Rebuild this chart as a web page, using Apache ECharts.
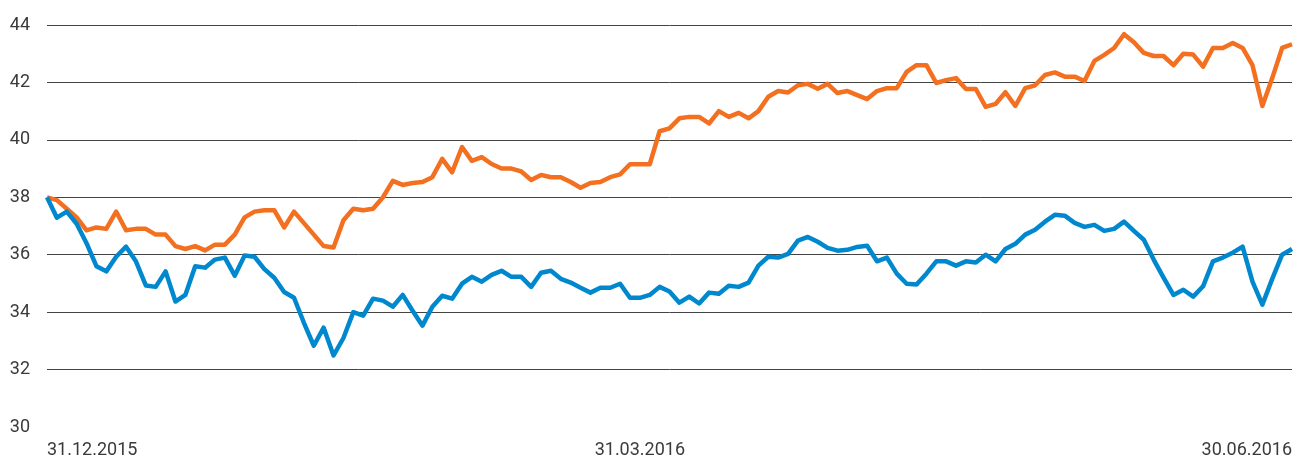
<!DOCTYPE html>
<html>
<head>
<meta charset="utf-8">
<style>
  html, body { margin: 0; padding: 0; background: #fff; }
  #chart { width: 1297px; height: 459px; }
</style>
<script src="https://cdn.jsdelivr.net/npm/echarts@6/dist/echarts.min.js"></script>
</head>
<body>
<div id="chart"></div>
<script>
// trading days 31.12.2015 – 30.06.2016, only three of them carry a label
const dayCount = 127;
const days = Array.from({ length: dayCount }, (_, i) => "d" + i);
const tickLabels = { 0: "31.12.2015", 60: "31.03.2016", 126: "30.06.2016" };

const orangeValues = [
  38.0, 37.9, 37.6, 37.3, 36.85, 36.95, 36.9, 37.5, 36.85, 36.9,
  36.9, 36.7, 36.7, 36.3, 36.2, 36.3, 36.15, 36.35, 36.35, 36.7,
  37.3, 37.5, 37.55, 37.55, 36.95, 37.5, 37.1, 36.7, 36.3, 36.25,
  37.2, 37.6, 37.55, 37.6, 38.0, 38.57, 38.43, 38.5, 38.53, 38.7,
  39.34, 38.87, 39.75, 39.27, 39.4, 39.16, 39.0, 39.0, 38.9, 38.6,
  38.78, 38.7, 38.7, 38.53, 38.33, 38.5, 38.53, 38.7, 38.8, 39.15,
  39.15, 39.15, 40.3, 40.4, 40.75, 40.8, 40.8, 40.57, 41.0, 40.8,
  40.94, 40.75, 41.0, 41.5, 41.7, 41.65, 41.9, 41.95, 41.78, 41.95,
  41.63, 41.7, 41.56, 41.42, 41.7, 41.8, 41.8, 42.37, 42.6, 42.6,
  41.98, 42.08, 42.15, 41.77, 41.77, 41.15, 41.25, 41.66, 41.18, 41.8,
  41.9, 42.26, 42.35, 42.2, 42.2, 42.05, 42.75, 42.96, 43.2, 43.68,
  43.4, 43.03, 42.92, 42.92, 42.6, 43.0, 42.97, 42.55, 43.2, 43.2,
  43.37, 43.2, 42.6, 41.18, 42.15, 43.2, 43.33
];

const blueValues = [
  38.0, 37.29, 37.5, 37.08, 36.4, 35.6, 35.42, 35.93, 36.28, 35.77,
  34.93, 34.88, 35.42, 34.37, 34.6, 35.6, 35.55, 35.83, 35.9, 35.27,
  35.97, 35.93, 35.5, 35.2, 34.7, 34.5, 33.63, 32.83, 33.46, 32.49,
  33.1, 34.0, 33.88, 34.47, 34.4, 34.19, 34.6, 34.05, 33.53, 34.19,
  34.57, 34.47, 34.99, 35.23, 35.06, 35.3, 35.44, 35.23, 35.23, 34.88,
  35.37, 35.44, 35.16, 35.03, 34.85, 34.68, 34.85, 34.85, 34.99, 34.5,
  34.5, 34.6, 34.88, 34.72, 34.33, 34.54, 34.3, 34.68, 34.64, 34.92,
  34.88, 35.03, 35.62, 35.93, 35.9, 36.03, 36.49, 36.62, 36.45, 36.24,
  36.14, 36.17, 36.27, 36.31, 35.77, 35.9, 35.34, 34.99, 34.96, 35.34,
  35.77, 35.77, 35.62, 35.77, 35.73, 36.0, 35.77, 36.2, 36.38, 36.7,
  36.87, 37.15, 37.39, 37.36, 37.11, 36.97, 37.04, 36.83, 36.9, 37.15,
  36.83, 36.52, 35.83, 35.2, 34.6, 34.78, 34.54, 34.9, 35.77, 35.9,
  36.07, 36.28, 35.06, 34.26, 35.16, 36.0, 36.2
];

const chart = echarts.init(document.getElementById("chart"));

const option = {
  animation: false,
  grid: {
    left: 47,
    right: 5,
    top: 25,
    bottom: 31.5,
  },
  xAxis: {
    type: "category",
    boundaryGap: false,
    data: days,
    axisLine: { show: false },
    axisTick: { show: false },
    splitLine: { show: false },
    axisLabel: {
      interval: (idx) => tickLabels[idx] !== undefined,
      formatter: (val, idx) => tickLabels[idx] || "",
      alignMinLabel: "left",
      alignMaxLabel: "right",
      margin: 14,
      color: "#3a3a3a",
      fontFamily: "Roboto",
      fontSize: 18,
    },
  },
  yAxis: {
    type: "value",
    min: 30,
    max: 44,
    interval: 2,
    axisLine: { show: false },
    axisTick: { show: false },
    axisLabel: {
      margin: 17,
      color: "#3a3a3a",
      fontFamily: "Roboto",
      fontSize: 18,
      padding: [0, 0, 10, 0],
    },
    splitLine: {
      lineStyle: {
        // no line at the bottom value (30)
        color: ["transparent", "#444", "#444", "#444", "#444", "#444", "#444", "#444"],
        width: 1,
      },
    },
  },
  series: [
    {
      name: "orange",
      type: "line",
      data: orangeValues,
      showSymbol: false,
      lineStyle: { color: "#F37021", width: 4.5, join: "round" },
      emphasis: { disabled: true },
    },
    {
      name: "blue",
      type: "line",
      data: blueValues,
      showSymbol: false,
      lineStyle: { color: "#0088CE", width: 4.5, join: "round" },
      emphasis: { disabled: true },
    },
  ],
};

chart.setOption(option);
</script>
</body>
</html>
